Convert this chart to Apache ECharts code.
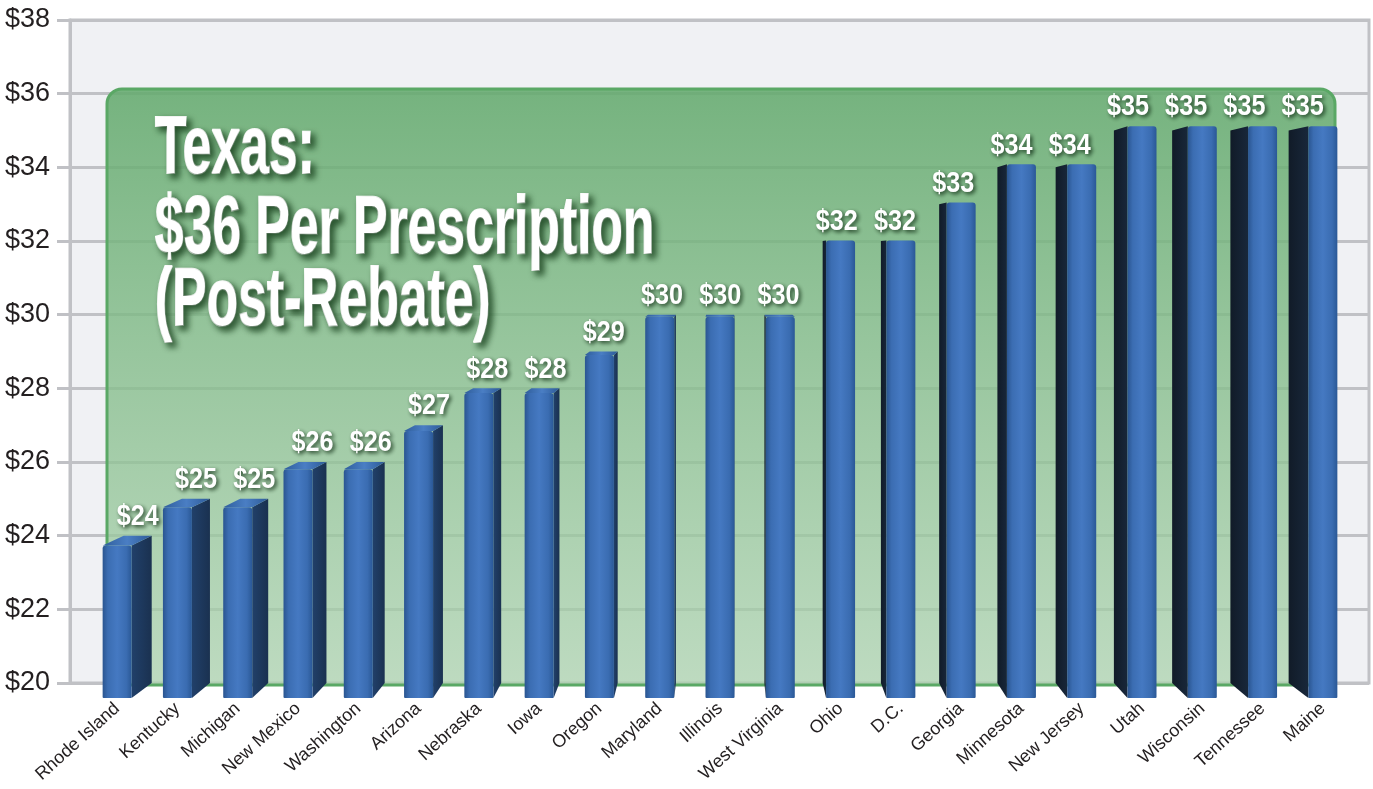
<!DOCTYPE html>
<html>
<head>
<meta charset="utf-8">
<script src="https://cdn.jsdelivr.net/npm/echarts/dist/echarts.min.js"></script>
<style>
  html, body { margin: 0; padding: 0; background: #ffffff; }
  #chart { width: 1373px; height: 789px; }
</style>
</head>
<body>
<div id="chart"></div>
<script>
// Average cost per prescription by state (post-rebate), sorted ascending
const states = ['Rhode Island', 'Kentucky', 'Michigan', 'New Mexico', 'Washington', 'Arizona',
  'Nebraska', 'Iowa', 'Oregon', 'Maryland', 'Illinois', 'West Virginia', 'Ohio', 'D.C.',
  'Georgia', 'Minnesota', 'New Jersey', 'Utah', 'Wisconsin', 'Tennessee', 'Maine'];
const prices = [24, 25, 25, 26, 26, 27, 28, 28, 29, 30, 30, 30, 32, 32, 33, 34, 34, 35, 35, 35, 35];

// Value axis range
const yMin = 20;
const yMax = 38;
const yStep = 2;

// Headline lines
const titleLines = ['Texas:', '$36 Per Prescription', '(Post-Rebate)'];

const SANS = '"Liberation Sans", Arial, Helvetica, sans-serif';

// Perspective used to give each bar a 3D body
const PERSP = { vx: 725, vy: 255, s: 1.035, frontW: 29 };

function renderBar(params, api) {
  const idx = api.value(0);
  const val = api.value(1);
  const topPt = api.coord([idx, val]);
  const basePt = api.coord([idx, yMin]);
  const cx = topPt[0];
  const yBackTop = topPt[1];
  const yBackBase = basePt[1];
  const { vx, vy, s, frontW } = PERSP;

  const xl = cx - frontW / 2;
  const xr = cx + frontW / 2;
  const yt = vy + (yBackTop - vy) * s;
  const yb = vy + (yBackBase - vy) * s;
  const bxl = vx + (xl - vx) / s;
  const bxr = vx + (xr - vx) / s;

  const children = [];
  const leftOfCenter = cx < vx;

  // side face
  if (leftOfCenter) {
    children.push({
      type: 'polygon',
      shape: { points: [[xr, yt], [bxr, yBackTop], [bxr, yBackBase], [xr, yb]] },
      style: {
        fill: { type: 'linear', x: 0, y: 0, x2: 1, y2: 0,
          colorStops: [{ offset: 0, color: '#21406a' }, { offset: 1, color: '#1a3150' }] }
      }
    });
  } else {
    children.push({
      type: 'polygon',
      shape: { points: [[xl, yt], [bxl, yBackTop], [bxl, yBackBase], [xl, yb]] },
      style: {
        fill: { type: 'linear', x: 0, y: 0, x2: 1, y2: 0,
          colorStops: [{ offset: 0, color: '#111b28' }, { offset: 1, color: '#18273a' }] }
      }
    });
  }

  // top face
  if (yt > yBackTop) {
    children.push({
      type: 'polygon',
      shape: { points: [[xl, yt], [xr, yt], [bxr, yBackTop], [bxl, yBackTop]] },
      style: {
        fill: { type: 'linear', x: 0, y: 0, x2: 1, y2: 0,
          colorStops: [{ offset: 0, color: '#2f5e9c' }, { offset: 0.5, color: '#4a7ec4' }, { offset: 1, color: '#2d5b98' }] }
      }
    });
  }

  // front face
  children.push({
    type: 'rect',
    shape: { x: xl, y: yt, width: frontW, height: yb - yt, r: [3, 3, 1, 1] },
    style: {
      fill: { type: 'linear', x: 0, y: 0, x2: 1, y2: 0,
        colorStops: [
          { offset: 0, color: '#2a5590' },
          { offset: 0.18, color: '#3b6db2' },
          { offset: 0.5, color: '#4579c2' },
          { offset: 0.82, color: '#3a6cb1' },
          { offset: 1, color: '#2a5896' }
        ] }
    }
  });

  // value label
  children.push({
    type: 'text',
    x: (bxl + bxr) / 2,
    y: Math.min(yt, yBackTop) - 4,
    scaleX: 0.84,
    style: {
      text: '$' + val,
      x: 0, y: 0,
      align: 'center',
      verticalAlign: 'bottom',
      fill: '#ffffff',
      font: 'bold 30px ' + SANS,
      textShadowColor: 'rgba(15,45,20,0.9)',
      textShadowBlur: 4,
      textShadowOffsetX: 2,
      textShadowOffsetY: 2
    }
  });

  return { type: 'group', children };
}

const chart = echarts.init(document.getElementById('chart'), null, { renderer: 'canvas' });

// vertical centre of each headline line
const titleMid = [150, 230, 302];

chart.setOption({
  animation: false,
  backgroundColor: '#ffffff',
  grid: [
    { // frame, background and value scale
      left: 70, right: 4, top: 20, bottom: 106,
      show: true, backgroundColor: '#f0f1f4', borderColor: '#c0c1c5', borderWidth: 3,
      containLabel: false, outerBoundsMode: 'none'
    },
    { // bars
      left: 87, right: 20, top: 20, bottom: 106,
      containLabel: false, outerBoundsMode: 'none'
    }
  ],
  xAxis: [
    { gridIndex: 0, type: 'value', min: 0, max: 1, show: false },
    {
      gridIndex: 1, type: 'category', data: states,
      axisLine: { show: false }, axisTick: { show: false },
      axisLabel: {
        interval: 0, rotate: 42, margin: 23,
        fontFamily: SANS, fontSize: 18, color: '#231f20'
      }
    }
  ],
  yAxis: [
    {
      gridIndex: 0, type: 'value', min: yMin, max: yMax, interval: yStep,
      axisLine: { show: true, lineStyle: { color: '#c0c1c5', width: 3 } },
      axisTick: { show: true, length: 13, lineStyle: { color: '#c0c1c5', width: 3 } },
      splitLine: { show: true, lineStyle: { color: '#c0c1c5', width: 3 } },
      axisLabel: {
        margin: 20, fontFamily: SANS, fontSize: 27, color: '#231f20',
        formatter: v => '$' + v
      }
    },
    { gridIndex: 1, type: 'value', min: yMin, max: yMax, interval: yStep, show: false }
  ],
  graphic: {
    elements: [
      {
        type: 'rect', z: 1,
        shape: { x: 107, y: 89, width: 1228, height: 596, r: 15 },
        style: {
          fill: { type: 'linear', x: 0, y: 0, x2: 0, y2: 1,
            colorStops: [
              { offset: 0, color: 'rgba(100,170,110,0.88)' },
              { offset: 1, color: 'rgba(170,210,172,0.72)' }
            ] },
          stroke: '#5aa865', lineWidth: 3
        }
      },
      ...titleLines.map((line, k) => ({
        type: 'text', z: 5,
        x: 155, y: titleMid[k], scaleX: 0.63, scaleY: 1,
        style: {
          text: line, x: 0, y: 0,
          align: 'left', verticalAlign: 'middle',
          fill: '#ffffff',
          stroke: '#ffffff', lineWidth: 2,
          font: 'bold 82px ' + SANS,
          textShadowColor: 'rgba(20,60,25,0.85)',
          textShadowBlur: 6,
          textShadowOffsetX: 4,
          textShadowOffsetY: 4
        }
      }))
    ]
  },
  series: [{
    type: 'custom',
    xAxisIndex: 1, yAxisIndex: 1,
    z: 3,
    clip: false,
    renderItem: renderBar,
    encode: { x: 0, y: 1 },
    data: prices.map((v, i) => [i, v])
  }]
});
</script>
</body>
</html>
